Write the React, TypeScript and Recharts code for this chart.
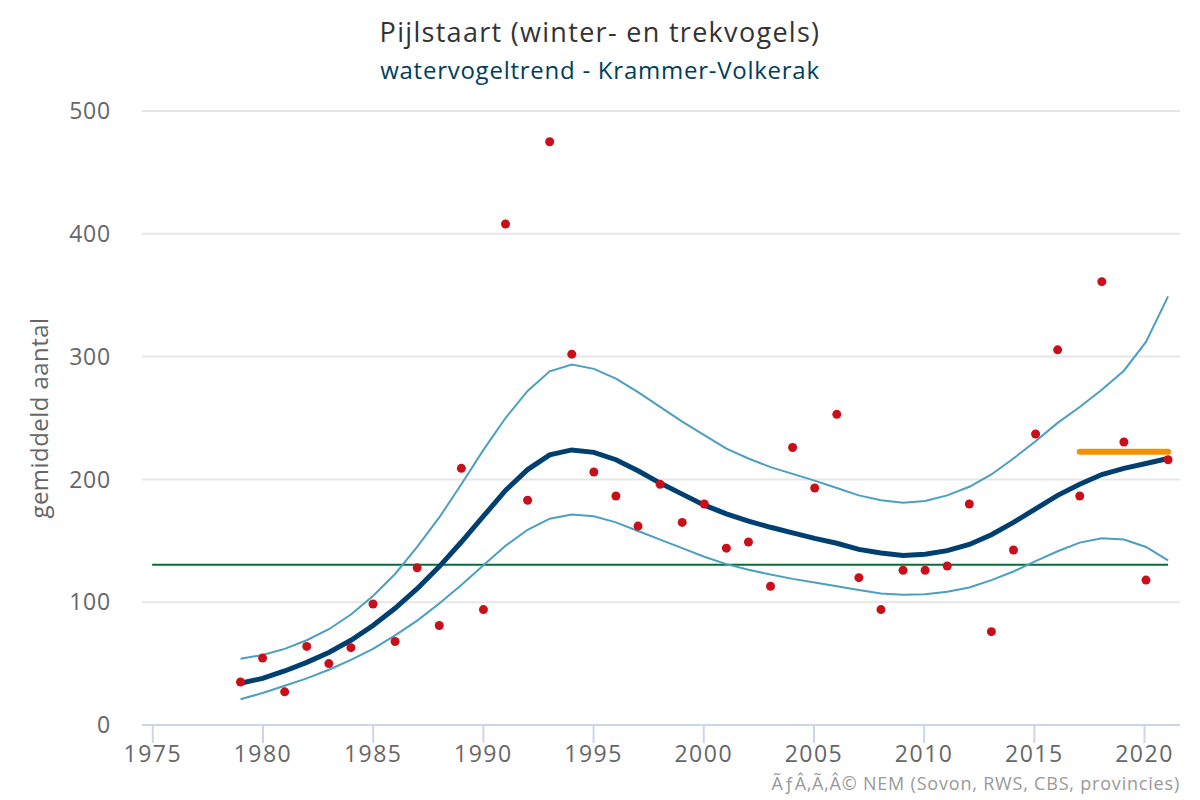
import { ComposedChart, Line, XAxis, YAxis, CartesianGrid, Label } from "recharts";

const FONT = '"Open Sans", sans-serif';

const years = [
  1979, 1980, 1981, 1982, 1983, 1984, 1985, 1986, 1987, 1988, 1989, 1990, 1991, 1992, 1993,
  1994, 1995, 1996, 1997, 1998, 1999, 2000, 2001, 2002, 2003, 2004, 2005, 2006, 2007, 2008,
  2009, 2010, 2011, 2012, 2013, 2014, 2015, 2016, 2017, 2018, 2019, 2020, 2021,
];

const counts = [
  35, 54.5, 27, 64, 50, 63, 98.5, 68, 128, 81, 209, 94, 408, 183, 475,
  302, 206, 186.5, 162, 196, 165, 180, 144, 149, 113, 226, 193, 253, 120, 94,
  126, 126, 129.5, 180, 76, 142.5, 237, 305.5, 186.5, 361, 230.5, 118, 216,
];

const trend = [
  34, 38, 44, 51, 59, 69, 81, 95, 111, 129, 149, 170, 191, 208, 220,
  224, 222, 216, 207, 197, 188, 179, 172, 166, 161, 156.5, 152, 148, 143, 140,
  138, 139, 142, 147, 155, 165, 176, 187, 196, 204, 209, 213, 217,
];

const upper = [
  54, 57, 62, 69, 78, 90, 105, 123, 145, 169, 196, 224, 250, 272, 288,
  293.5, 290, 282, 271, 259, 247, 236, 225, 217, 210, 204.5, 199, 193, 187, 183,
  181, 182.5, 187, 194, 204, 217, 231, 246, 259, 273, 288.5, 312, 349,
];

const lower = [
  21, 26, 32, 38, 45, 53, 62, 73, 85, 99, 114, 130, 146, 159, 168,
  171.5, 170, 165, 158, 151, 144, 137, 131, 126.5, 122.5, 119, 116, 113, 110, 107,
  106, 106.5, 108.5, 112, 118, 125, 133.5, 141.5, 148.5, 152, 151, 145, 134,
];

const xTicks = [1975, 1980, 1985, 1990, 1995, 2000, 2005, 2010, 2015, 2020];
const yTicks = [0, 100, 200, 300, 400, 500];

const baselineYears = [1975, 2021];
const baselineValue = 130.5;
const recentYears = [2017, 2018, 2019, 2020, 2021];
const recentValue = 222.5;

const table = [1975, 1976, 1977, 1978, ...years].map((year) => {
  const i = years.indexOf(year);
  return {
    year,
    count: i >= 0 ? counts[i] : null,
    trend: i >= 0 ? trend[i] : null,
    upper: i >= 0 ? upper[i] : null,
    lower: i >= 0 ? lower[i] : null,
    baseline: year >= baselineYears[0] && year <= baselineYears[1] ? baselineValue : null,
    recent: recentYears.includes(year) ? recentValue : null,
  };
});

const xTickStyle = { fill: "#666666", fontSize: 23, fontFamily: FONT, letterSpacing: 1.5 };
const yTickStyle = { fill: "#666666", fontSize: 23, fontFamily: FONT, letterSpacing: 0.8 };
const axisStroke = { stroke: "#ccd6eb", strokeWidth: 2 };

export default function App() {
  return (
    <div style={{ position: "absolute", left: 0, top: 0, width: 1200, height: 800, background: "#fff" }}>
      <div
        style={{
          position: "absolute",
          top: 13,
          width: 1200,
          textAlign: "center",
          fontFamily: FONT,
          fontSize: 27,
          letterSpacing: 1.3,
          color: "#333333",
        }}
      >
        Pijlstaart (winter- en trekvogels)
      </div>
      <div
        style={{
          position: "absolute",
          top: 53,
          width: 1200,
          textAlign: "center",
          fontFamily: FONT,
          fontSize: 24,
          letterSpacing: 0.75,
          color: "#003e5c",
        }}
      >
        watervogeltrend - Krammer-Volkerak
      </div>
      <ComposedChart width={1200} height={800} data={table} margin={{ top: 111, right: 20, bottom: 0, left: 0 }}>
        <CartesianGrid horizontal vertical={false} stroke="#e6e6e6" strokeWidth={2} />
        <XAxis
          dataKey="year"
          type="number"
          domain={[1974.51, 2021.61]}
          ticks={xTicks}
          height={75}
          tick={xTickStyle}
          tickSize={18}
          tickMargin={3}
          interval={0}
          axisLine={axisStroke}
          tickLine={axisStroke}
          allowDataOverflow
        />
        {/* points sit slightly off the tick grid in the original, so series get their own x scale */}
        <XAxis xAxisId="series" dataKey="year" type="number" domain={[1974.54, 2021.54]} hide allowDataOverflow />
        <YAxis
          domain={[0, 500]}
          ticks={yTicks}
          width={142}
          tick={yTickStyle}
          axisLine={false}
          tickLine={false}
          tickSize={0}
          tickMargin={31}
          interval={0}
        >
          <Label
            value="gemiddeld aantal"
            angle={-90}
            position="insideLeft"
            offset={39}
            style={{ fill: "#666666", fontSize: 24, fontFamily: FONT, textAnchor: "middle", letterSpacing: 0.45 }}
          />
        </YAxis>
        <Line
          xAxisId="series"
          dataKey="baseline"
          stroke="#0b6b34"
          strokeWidth={2}
          dot={false}
          connectNulls
          isAnimationActive={false}
        />
        <Line
          xAxisId="series"
          dataKey="count"
          stroke="none"
          dot={{ r: 4.5, fill: "#c9101a", stroke: "none" }}
          isAnimationActive={false}
        />
        <Line xAxisId="series" dataKey="lower" stroke="#4b9fbf" strokeWidth={2} dot={false} isAnimationActive={false} />
        <Line xAxisId="series" dataKey="upper" stroke="#4b9fbf" strokeWidth={2} dot={false} isAnimationActive={false} />
        <Line
          xAxisId="series"
          dataKey="trend"
          stroke="#004070"
          strokeWidth={5}
          strokeLinecap="round"
          dot={false}
          isAnimationActive={false}
        />
        <Line
          xAxisId="series"
          dataKey="recent"
          stroke="#f39200"
          strokeWidth={6}
          strokeLinecap="round"
          dot={false}
          isAnimationActive={false}
        />
      </ComposedChart>
      <div
        style={{
          position: "absolute",
          right: 20,
          top: 771,
          fontFamily: FONT,
          fontSize: 18,
          letterSpacing: 0.8,
          color: "#999999",
          whiteSpace: "nowrap",
        }}
      >
        ÃƒÂ‚Ã‚Â© NEM (Sovon, RWS, CBS, provincies)
      </div>
    </div>
  );
}
